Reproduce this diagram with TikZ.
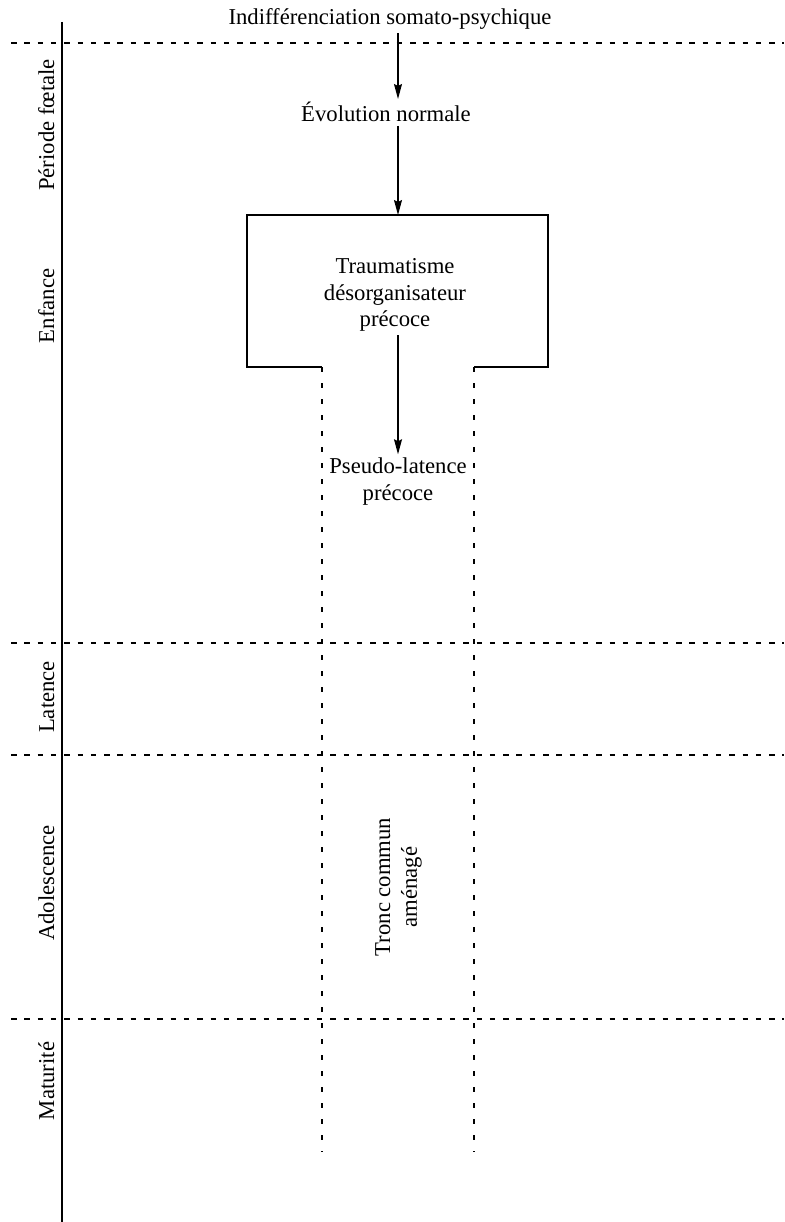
\documentclass[tikz,border=0pt]{standalone}
\usepackage{fontspec}
\setmainfont{Liberation Serif}
\usetikzlibrary{arrows.meta}
\begin{document}
\begin{tikzpicture}[x=1pt,y=-1pt,
  every node/.style={font=\fontsize{22.7}{26.8}\selectfont},
  label/.style={align=center},
  period/.style={rotate=90,anchor=base},
  flow/.style={-{Stealth[length=15pt,width=8pt,inset=2pt]},line width=1.1pt},
  stage/.style={dash pattern=on 5.5pt off 7.8pt,line width=1.1pt},
  trunk/.style={dash pattern=on 4.5pt off 11.5pt,line width=1.1pt},
  frame/.style={line width=1.3pt}]
\useasboundingbox (0,0) rectangle (784,1222);

% time axis
\coordinate (axtop) at (62,22);
\coordinate (axbot) at (62,1222);
\draw[line width=2.5pt] (axtop) -- (axbot);

% stage boundaries
\foreach \yy/\nm in {43/a,643/b,755/c,1019/d}{
  \coordinate (s\nm l) at (11,\yy);
  \coordinate (s\nm r) at (784,\yy);
  \draw[stage] (s\nm l) -- (s\nm r);
}

% stage names
\node[period] (pfoetale) at (54,125) {Période fœtale};
\node[period] (penfance) at (54,306) {Enfance};
\node[period] (platence) at (54,697) {Latence};
\node[period] (pado) at (54,883) {Adolescence};
\node[period] (pmat) at (54,1081) {Maturité};

% development line (arrows run along x = 398)
\coordinate (spine) at (398,0);
\node[anchor=base] (indiff) at (390,25) {Indifférenciation somato-psychique};
\node[anchor=base] (evol) at (386,122) {Évolution normale};

% trauma frame, open at the bottom
\coordinate (bxtl) at (247,215);
\coordinate (bxtr) at (548,215);
\coordinate (bxbl) at (247,367);
\coordinate (bxbr) at (548,367);
\coordinate (gapl) at (322,367);
\coordinate (gapr) at (474,367);
\coordinate (bxtop) at (398,215);
\draw[frame] (gapl) -- (bxbl) -- (bxtl) -- (bxtr) -- (bxbr) -- (gapr);

\node[label] (trauma) at (395,295) {Traumatisme\\désorganisateur\\précoce};
\node[label] (pseudo) at (398,481.5) {Pseudo-latence\\précoce};

% common trunk
\coordinate (trl) at (322,1152);
\coordinate (trr) at (474,1152);
\draw[trunk] (gapl) -- (trl);
\draw[trunk] (gapr) -- (trr);
\node[label,rotate=90] (tronc) at (398.5,887) {Tronc commun\\aménagé};

% arrows
\draw[flow] (indiff.south -| spine) -- (evol.north -| spine);
\draw[flow] (evol.south -| spine) -- (bxtop);
\draw[flow] (trauma.south -| spine) -- (pseudo.north -| spine);
\end{tikzpicture}
\end{document}
